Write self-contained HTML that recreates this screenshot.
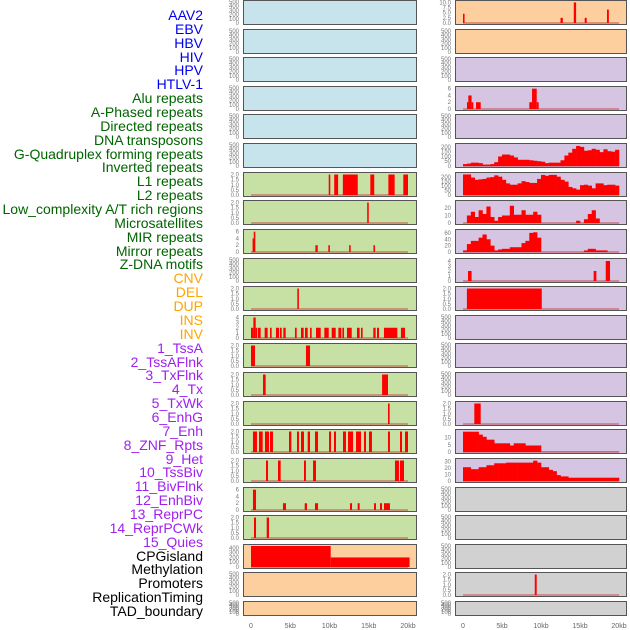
<!DOCTYPE html>
<html><head><meta charset="utf-8"><style>
body{margin:0;background:#fff;width:630px;height:630px;overflow:hidden;font-family:"Liberation Sans",sans-serif}
#labels div{position:absolute;right:427px;font-size:14px;line-height:14px;white-space:nowrap}
</style></head><body>
<div id="labels"></div>
<svg id="chart" width="630" height="630" style="position:absolute;left:0;top:0"></svg>
<script>
const labelNames = ["AAV2","EBV","HBV","HIV","HPV","HTLV-1","Alu repeats","A-Phased repeats","Directed repeats","DNA transposons","G-Quadruplex forming repeats","Inverted repeats","L1 repeats","L2 repeats","Low_complexity A/T rich regions","Microsatellites","MIR repeats","Mirror repeats","Z-DNA motifs","CNV","DEL","DUP","INS","INV","1_TssA","2_TssAFlnk","3_TxFlnk","4_Tx","5_TxWk","6_EnhG","7_Enh","8_ZNF_Rpts","9_Het","10_TssBiv","11_BivFlnk","12_EnhBiv","13_ReprPC","14_ReprPCWk","15_Quies","CPGisland","Methylation","Promoters","ReplicationTiming","TAD_boundary"];
const labelColors = {virus:"#0000ee",rep:"#006400",sv:"#ffa500",chrom:"#a020f0",other:"#000"};
const xTickVals = [0,5,10,15,20];
const xTickLabels = ["0","5kb","10kb","15kb","20kb"];
const L_L1 = [[9.9,10.1,2],[10.6,11.1,2],[11.7,13.6,2],[15.2,15.7,2],[17.5,18.3,2],[19.4,20,2]];
const L_L2 = [[14.8,15.0,2]];
const L_LowAT = [[0.2,0.35,4],[0.35,0.55,6],[8.2,8.5,2],[9.85,10.05,2],[12.5,12.7,2],[15.6,15.8,2]];
const L_Micro = [[5.9,6.1,2]];
const L_MIR = [[0,0.3,2],[0.3,0.6,4],[0.6,0.72,2],[0.89,1.23,2],[1.74,2.12,2],[2.42,2.63,2],[3.18,3.57,2],[3.69,3.91,2],[4.12,4.42,2],[5.6,5.82,2],[6.37,6.71,2],[6.88,7.22,2],[7.52,7.73,2],[8.28,8.88,2],[9.34,9.9,2],[10.28,10.79,2],[11.13,11.51,2],[11.64,11.85,2],[12.23,12.83,2],[13.5,13.84,2],[14.01,14.22,2],[15.58,15.88,2],[16.05,16.31,2],[16.94,18.64,2],[19.1,19.62,2]];
const L_Mirror = [[0.0,0.51,2],[7.0,7.52,2]];
const L_ZDNA = [[1.53,1.87,2],[16.7,17.45,2]];
const L_CNV = [[17.45,17.66,2]];
const L_DEL = [[0.25,0.76,2],[1.02,1.49,2],[1.78,2.29,2],[2.42,2.8,2],[4.84,5.14,2],[5.86,6.11,2],[6.37,6.75,2],[7.22,7.52,2],[8.15,8.54,2],[9.94,10.19,2],[10.57,10.83,2],[11.72,12.1,2],[12.36,13.0,2],[13.38,14.01,2],[14.4,14.65,2],[15.03,15.41,2],[17.45,17.7,2],[18.98,19.24,2],[19.62,20.0,2]];
const L_DUP = [[1.91,2.17,2],[3.44,3.78,2],[6.75,7.0,2],[7.9,8.28,2],[18.34,18.85,2],[18.98,19.49,2]];
const L_INS = [[0.25,0.64,6],[4.07,4.46,2],[6.84,7.13,2],[8.15,8.54,2],[12.61,12.87,2],[13.59,13.84,2],[15.67,15.92,2],[16.43,16.69,2],[16.94,17.2,2],[17.2,17.45,2],[17.45,17.7,2]];
const L_INV = [[0.38,0.64,2],[2.0,2.29,2]];
const L_CpG = [[0,10.15,440],[10.15,20.2,200]];
const R_AAV2 = [[0,0.2,4.5],[12.5,12.8,2.5],[14.2,14.5,10],[15.6,15.86,2.5],[18.46,18.7,6.5]];
const R_Alu = [[0.51,0.68,2],[0.68,1.1,4],[1.1,1.32,2],[1.67,2.27,2],[8.5,8.85,2],[8.85,9.45,6],[9.45,9.7,2]];
const R_Gquad = [20,25,35,35,30,15,15,20,40,100,120,120,110,90,65,65,65,60,55,50,45,30,35,35,35,60,110,140,180,210,200,160,165,180,170,145,175,155,150,170];
const R_Inv = [230,230,195,170,175,180,195,200,220,205,170,130,115,115,130,155,145,135,135,180,225,215,225,225,205,170,150,90,75,60,110,115,105,75,130,130,110,115,115,105];
const R_L1 = [0,10,15,8,17,12,22,8,3,8,10,10,23,11,11,17,11,11,15,11,0,0,0,0,0,0,0,0,0,3,0,5,12,17,6,0,0,0,0,0];
const R_L2 = [5,25,35,35,45,55,40,20,5,8,10,10,15,15,15,28,35,60,62,45,0,0,0,0,0,0,0,0,0,0,0,5,10,10,5,5,5,0,0,0];
const R_LowAT = [[0.64,1.1,2],[16.75,17.1,2],[18.3,18.85,4]];
const R_Micro = [[0.5,10.1,2]];
const R_INS = [[1.45,2.27,2]];
const R_Enh = [14,14,14,14,12,10.5,8.5,8.5,6,6,6,6,4.5,6,6,6,4.5,4.5,4.5,4.5,0.2,0.2,0.2,0.2,0.2,0.2,0.2,0.2,0.2,0.2,0.2,0.2,0.2,0.2,0.2,0.2,0.2,0.2,0.2,0.2];
const R_ZNF = [21,21,18,18,21,21,24,24,27,27,27,28,28,28,28,28,28,28,31,28,21,21,17,15,9,7,7,5,5,5,5,5,5,5,5,5,5,5,5,5];
const R_Prom = [[9.2,9.45,2]];

const T500 = [[0,"0"],[100,"100"],[200,"200"],[300,"300"],[400,"400"],[500,"500"]];
const T2 = [[0,"0.0"],[0.5,"0.5"],[1,"1.0"],[1.5,"1.5"],[2,"2.0"]];
const T6 = [[0,"0"],[2,"2"],[4,"4"],[6,"6"]];
const T4 = [[0,"0"],[1,"1"],[2,"2"],[3,"3"],[4,"4"]];
const T10 = [[0,"0.0"],[2.5,"2.5"],[5,"5.0"],[7.5,"7.5"],[10,"10.0"]];
const T200 = [[0,"0"],[50,"50"],[100,"100"],[150,"150"],[200,"200"]];
const T20 = [[0,"0"],[10,"10"],[20,"20"]];
const T60 = [[0,"0"],[20,"20"],[40,"40"],[60,"60"]];
const T400 = [[0,"0"],[100,"100"],[200,"200"],[300,"300"],[400,"400"]];
const T10b = [[0,"0"],[5,"5"],[10,"10"]];
const T30 = [[0,"0"],[10,"10"],[20,"20"],[30,"30"]];

const BLUE="#c7e3ec",PEACH="#fdcf9f",LAV="#d5c5e2",GREEN="#c7e1a5",GRAY="#d1d1d1";
const leftCol = [
 [BLUE,null,500,T500],[BLUE,null,500,T500],[BLUE,null,500,T500],[BLUE,null,500,T500],[BLUE,null,500,T500],[BLUE,null,500,T500],
 [GREEN,L_L1,2.05,T2],[GREEN,L_L2,2.05,T2],[GREEN,L_LowAT,6.2,T6],[GREEN,null,500,T500],[GREEN,L_Micro,2.05,T2],
 [GREEN,L_MIR,4.1,T4],[GREEN,L_Mirror,2.05,T2],[GREEN,L_ZDNA,2.05,T2],[GREEN,L_CNV,2.05,T2],[GREEN,L_DEL,2.05,T2],
 [GREEN,L_DUP,2.05,T2],[GREEN,L_INS,6.2,T6],[GREEN,L_INV,2.05,T2],[PEACH,L_CpG,440,T400],[PEACH,null,500,T500],[PEACH,null,500,T500]];
const rightCol = [
 [PEACH,R_AAV2,10.2,T10],[PEACH,null,500,T500],[LAV,null,500,T500],[LAV,R_Alu,6.2,T6],[LAV,null,500,T500],
 [LAV,R_Gquad,220,T200],[LAV,R_Inv,235,T200],[LAV,R_L1,28,T20],[LAV,R_L2,66,T60],[LAV,R_LowAT,4.2,T4],[LAV,R_Micro,2.05,T2],
 [LAV,null,500,T500],[LAV,null,500,T500],[LAV,null,500,T500],[LAV,R_INS,2.05,T2],[LAV,R_Enh,14.5,T10b],[LAV,R_ZNF,32,T30],
 [GRAY,null,500,T500],[GRAY,null,500,T500],[GRAY,null,500,T500],[GRAY,R_Prom,2.05,T2],[GRAY,null,500,T500]];

const lab = document.getElementById('labels');
labelNames.forEach((n,i)=>{
  const d=document.createElement('div');
  
  
  d.textContent=n;
  d.style.top=(8+i*(604-8)/43)+'px';
  d.style.color = i<6?labelColors.virus:i<19?labelColors.rep:i<24?labelColors.sv:i<39?labelColors.chrom:labelColors.other;
  lab.appendChild(d);
});
const svg=document.getElementById('chart');
const NS="http://www.w3.org/2000/svg";
function mk(tag,attrs,parent){const e=document.createElementNS(NS,tag);for(const k in attrs)e.setAttribute(k,attrs[k]);(parent||svg).appendChild(e);return e;}
function drawCol(col,px,pw,x0,kbScale,tickRight){
  col.forEach((p,i)=>{
    const [bg,data,ymax,ticks]=p;
    const top=Math.round(i*28.62), h=(i===21?15:25), bot=top+h;
    const g=mk('g',{});
    
    
    const r=mk('rect',{x:px+0.5,y:top+0.5,width:pw,height:h-1,fill:bg,stroke:'#555','stroke-width':1},g);
    
    
    const y=v=>bot-2-Math.min(v,ymax)/ymax*(h-4);
    const x=kb=>x0+kb*kbScale;
    ticks.forEach(t=>{
      const tx=mk('text',{x:tickRight,y:y(t[0])+2,'font-size':6,fill:'#777','text-anchor':'end'},g);
      
      
      tx.textContent=t[1];
    });
    if(!data) return;
    const bl=mk('line',{x1:x(0),x2:x(20),y1:bot-2,y2:bot-2,stroke:'#c04040','stroke-width':1.5,'stroke-opacity':0.6},g);
    
    
    if(typeof data[0]==='number'){
      data.forEach((v,k)=>{
        if(v<=0) return;
        const b=mk('rect',{x:x(k*0.5),y:y(v),width:0.5*kbScale+0.3,height:bot-2-y(v),fill:'#ff0000'},g);
        
        
      });
    } else {
      data.forEach(d=>{
        const w=Math.max(1.5,x(d[1])-x(d[0]));
        const b=mk('rect',{x:x(d[0]),y:Math.max(top+1,y(d[2])),width:w,height:bot-2-Math.max(top+1,y(d[2])),fill:'#ff0000'},g);
        
        
      });
    }
  });
  xTickVals.forEach((v,k)=>{
    const t=mk('text',{x:x0+v*kbScale,y:628,'font-size':7,fill:'#666','text-anchor':'middle'});
    
    
    t.textContent=xTickLabels[k];
  });
}
drawCol(leftCol,243,173,251,7.85,239);
drawCol(rightCol,455,171,463,7.8,451);
</script>
</body></html>
